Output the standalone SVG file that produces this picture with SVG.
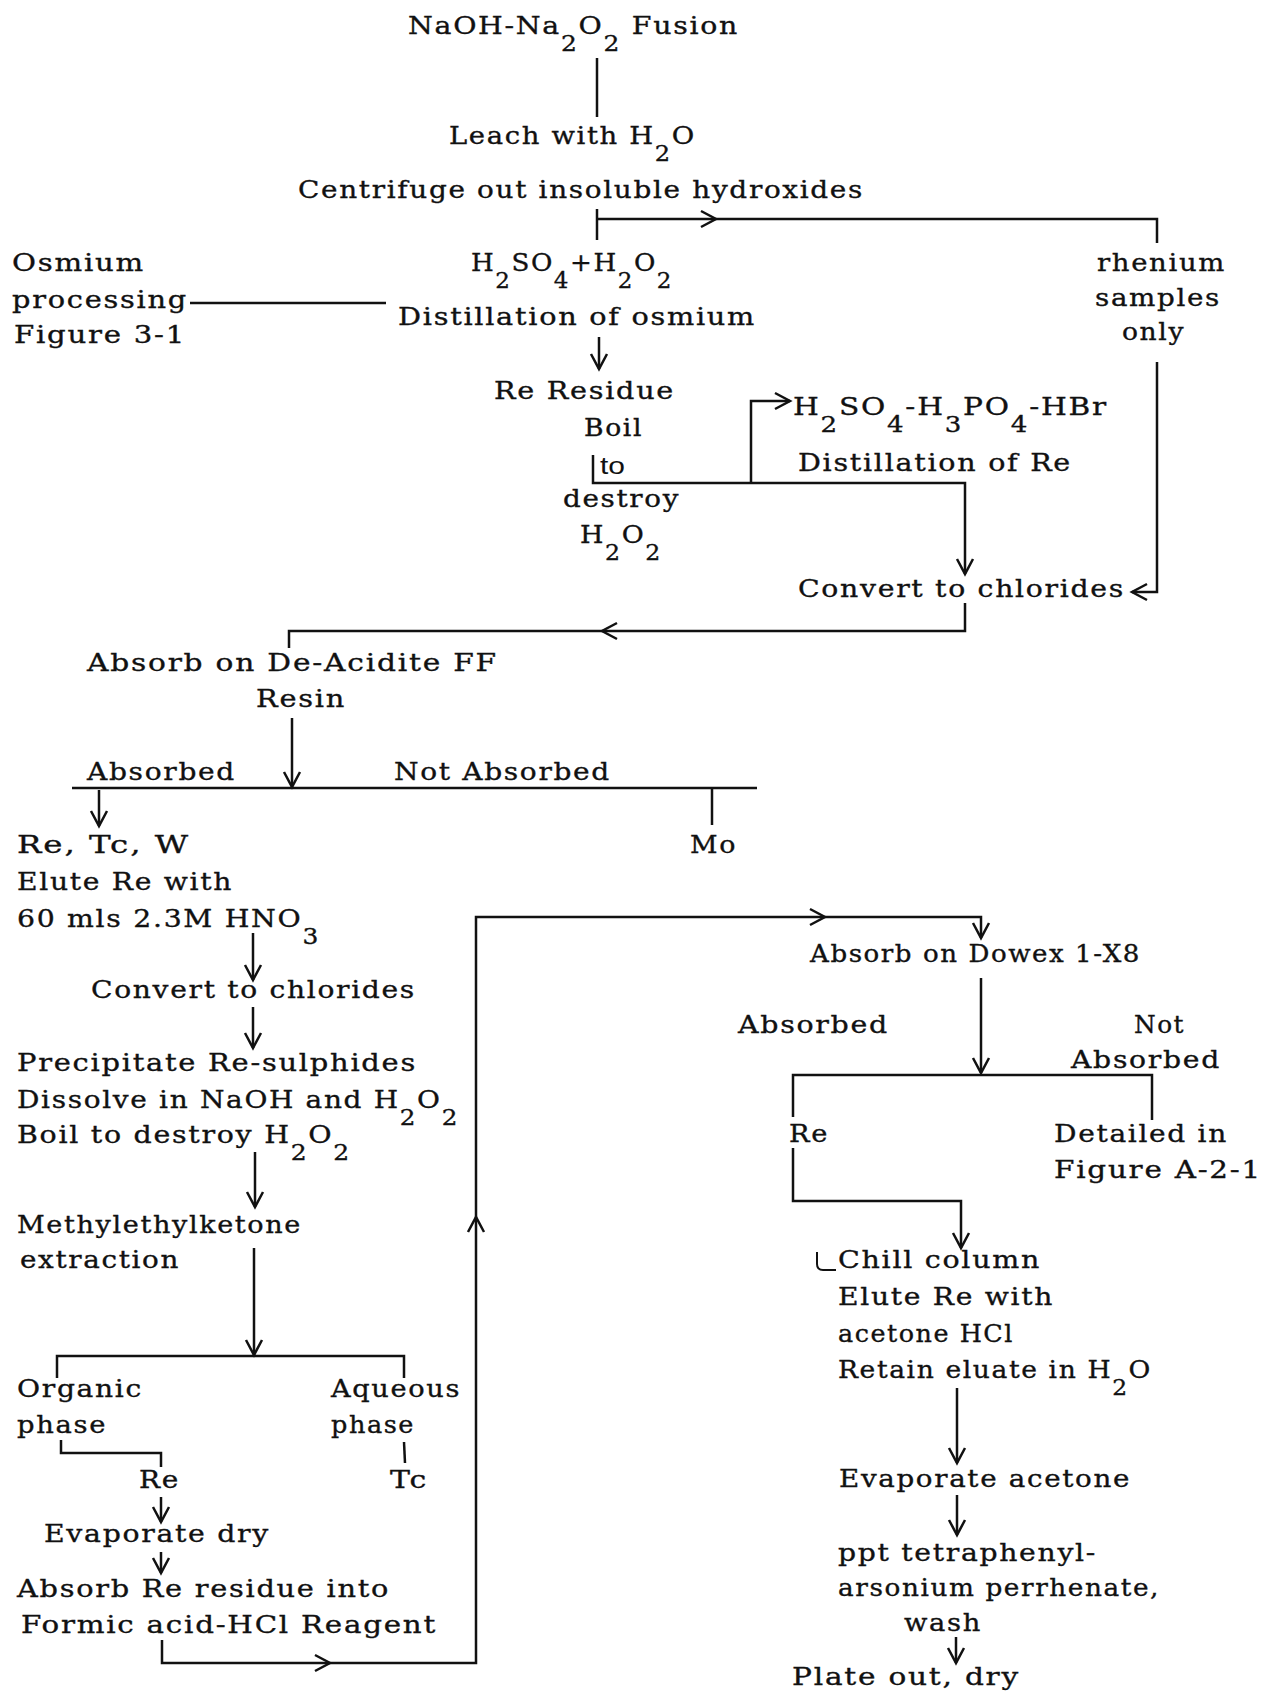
<svg xmlns="http://www.w3.org/2000/svg" xmlns:xlink="http://www.w3.org/1999/xlink" width="1272" height="1692" viewBox="0 0 1272 1692">
<style>
.t{font-family:"DejaVu Serif","Liberation Serif",serif;font-size:25px;letter-spacing:1.5px;fill:#111;stroke:#111;stroke-width:0.35;white-space:pre}
.s{font-size:22px}
.sans{font-family:"Liberation Sans","DejaVu Sans",sans-serif;font-size:23px;fill:#111}
.ln{stroke:#111;stroke-width:2.5;fill:none;stroke-linecap:butt;stroke-linejoin:miter}
</style>
<defs>
<marker id="ah" viewBox="-20 -12 24 24" refX="0" refY="0" markerWidth="24" markerHeight="24" markerUnits="userSpaceOnUse" orient="auto">
<path d="M-15,-8 L0,0 L-15,8" fill="none" stroke="#111" stroke-width="2.5"/>
</marker>
<path id="chev" class="ln" d="M-8,-15 L0,0 L8,-15"/>
</defs>
<rect width="1272" height="1692" fill="#fff"/>

<g id="connectors">
<line class="ln" x1="597" y1="58" x2="597" y2="117"/>
<line class="ln" x1="597" y1="209" x2="597" y2="240"/>
<polyline class="ln" points="597,219 1157,219 1157,243"/>
<use xlink:href="#chev" transform="translate(716,219) rotate(-90)"/>
<line class="ln" x1="190" y1="303" x2="386" y2="303"/>
<line class="ln" x1="599" y1="337" x2="599" y2="369" marker-end="url(#ah)"/>
<polyline class="ln" points="1157,362 1157,592 1132,592" marker-end="url(#ah)"/>
<polyline class="ln" points="593,455 593,483 965,483 965,574" marker-end="url(#ah)"/>
<polyline class="ln" points="751,483 751,401 790,401" marker-end="url(#ah)"/>
<polyline class="ln" points="965,603 965,631 289,631 289,648"/>
<use xlink:href="#chev" transform="translate(602,631) rotate(90)"/>
<line class="ln" x1="292" y1="718" x2="292" y2="787" marker-end="url(#ah)"/>
<line class="ln" x1="72" y1="788" x2="757" y2="788"/>
<line class="ln" x1="99" y1="790" x2="99" y2="826" marker-end="url(#ah)"/>
<line class="ln" x1="712" y1="788" x2="712" y2="825"/>
<line class="ln" x1="253" y1="933" x2="253" y2="980" marker-end="url(#ah)"/>
<line class="ln" x1="253" y1="1007" x2="253" y2="1048" marker-end="url(#ah)"/>
<line class="ln" x1="255" y1="1152" x2="255" y2="1207" marker-end="url(#ah)"/>
<line class="ln" x1="254" y1="1248" x2="254" y2="1355" marker-end="url(#ah)"/>
<polyline class="ln" points="57,1378 57,1356 404,1356 404,1378"/>
<polyline class="ln" points="61,1440 61,1453 161,1453 161,1467"/>
<line class="ln" x1="404" y1="1442" x2="405" y2="1463"/>
<line class="ln" x1="161" y1="1497" x2="161" y2="1522" marker-end="url(#ah)"/>
<line class="ln" x1="161" y1="1552" x2="161" y2="1573" marker-end="url(#ah)"/>
<polyline class="ln" points="162,1640 162,1663 476,1663 476,917 981,917 981,938" marker-end="url(#ah)"/>
<use xlink:href="#chev" transform="translate(330,1663) rotate(-90)"/>
<use xlink:href="#chev" transform="translate(476,1217) rotate(180)"/>
<use xlink:href="#chev" transform="translate(825,917) rotate(-90)"/>
<line class="ln" x1="981" y1="978" x2="981" y2="1073" marker-end="url(#ah)"/>
<polyline class="ln" points="793,1117 793,1075 1152,1075 1152,1120"/>
<polyline class="ln" points="793,1148 793,1201 961,1201 961,1248" marker-end="url(#ah)"/>
<line class="ln" x1="957" y1="1388" x2="957" y2="1463" marker-end="url(#ah)"/>
<line class="ln" x1="957" y1="1495" x2="957" y2="1535" marker-end="url(#ah)"/>
<line class="ln" x1="956" y1="1637" x2="956" y2="1663" marker-end="url(#ah)"/>
<path class="ln" style="stroke-width:2" d="M817,1252 L817,1264 Q817,1270 823,1270 L836,1270"/>
</g>

<g id="n-fusion">
<text class="t" x="408" y="34" textLength="331" lengthAdjust="spacingAndGlyphs">NaOH-Na<tspan class="s" dy="17">2</tspan><tspan dy="-17">O</tspan><tspan class="s" dy="17">2</tspan><tspan dy="-17"> Fusion</tspan></text>
</g>
<g id="n-leach">
<text class="t" x="449" y="144" textLength="247" lengthAdjust="spacingAndGlyphs">Leach with H<tspan class="s" dy="17">2</tspan><tspan dy="-17">O</tspan></text>
<text class="t" x="298" y="198" textLength="566" lengthAdjust="spacingAndGlyphs">Centrifuge out insoluble hydroxides</text>
</g>
<g id="n-osmium">
<text class="t" x="12" y="271" textLength="133" lengthAdjust="spacingAndGlyphs">Osmium</text>
<text class="t" x="12" y="308" textLength="176" lengthAdjust="spacingAndGlyphs">processing</text>
<text class="t" x="14" y="343" textLength="172" lengthAdjust="spacingAndGlyphs">Figure 3-1</text>
</g>
<g id="n-distos">
<text class="t" x="471" y="271" textLength="202" lengthAdjust="spacingAndGlyphs">H<tspan class="s" dy="17">2</tspan><tspan dy="-17">SO</tspan><tspan class="s" dy="17">4</tspan><tspan dy="-17">+H</tspan><tspan class="s" dy="17">2</tspan><tspan dy="-17">O</tspan><tspan class="s" dy="17">2</tspan></text>
<text class="t" x="398" y="325" textLength="358" lengthAdjust="spacingAndGlyphs">Distillation of osmium</text>
</g>
<g id="n-rhenium">
<text class="t" x="1097" y="271" textLength="129" lengthAdjust="spacingAndGlyphs">rhenium</text>
<text class="t" x="1095" y="306" textLength="126" lengthAdjust="spacingAndGlyphs">samples</text>
<text class="t" x="1122" y="340" textLength="63" lengthAdjust="spacingAndGlyphs">only</text>
</g>
<g id="n-residue">
<text class="t" x="494" y="399" textLength="181" lengthAdjust="spacingAndGlyphs">Re Residue</text>
<text class="t" x="584" y="436" textLength="59" lengthAdjust="spacingAndGlyphs">Boil</text>
<text class="sans" x="600" y="474" textLength="25" lengthAdjust="spacingAndGlyphs">to</text>
<text class="t" x="563" y="507" textLength="117" lengthAdjust="spacingAndGlyphs">destroy</text>
<text class="t" x="580" y="543" textLength="82" lengthAdjust="spacingAndGlyphs">H<tspan class="s" dy="17">2</tspan><tspan dy="-17">O</tspan><tspan class="s" dy="17">2</tspan></text>
</g>
<g id="n-distre">
<text class="t" x="793" y="415" textLength="315" lengthAdjust="spacingAndGlyphs">H<tspan class="s" dy="17">2</tspan><tspan dy="-17">SO</tspan><tspan class="s" dy="17">4</tspan><tspan dy="-17">-H</tspan><tspan class="s" dy="17">3</tspan><tspan dy="-17">PO</tspan><tspan class="s" dy="17">4</tspan><tspan dy="-17">-HBr</tspan></text>
<text class="t" x="798" y="471" textLength="274" lengthAdjust="spacingAndGlyphs">Distillation of Re</text>
</g>
<g id="n-convert1">
<text class="t" x="798" y="597" textLength="327" lengthAdjust="spacingAndGlyphs">Convert to chlorides</text>
</g>
<g id="n-deacidite">
<text class="t" x="87" y="671" textLength="411" lengthAdjust="spacingAndGlyphs">Absorb on De-Acidite FF</text>
<text class="t" x="256" y="707" textLength="90" lengthAdjust="spacingAndGlyphs">Resin</text>
</g>
<g id="n-absorbed1">
<text class="t" x="87" y="780" textLength="149" lengthAdjust="spacingAndGlyphs">Absorbed</text>
</g>
<g id="n-notabsorbed1">
<text class="t" x="394" y="780" textLength="217" lengthAdjust="spacingAndGlyphs">Not Absorbed</text>
</g>
<g id="n-mo">
<text class="t" x="690" y="853" textLength="47" lengthAdjust="spacingAndGlyphs">Mo</text>
</g>
<g id="n-retcw">
<text class="t" x="17" y="853" textLength="173" lengthAdjust="spacingAndGlyphs">Re, Tc, W</text>
<text class="t" x="17" y="890" textLength="216" lengthAdjust="spacingAndGlyphs">Elute Re with</text>
<text class="t" x="17" y="927" textLength="303" lengthAdjust="spacingAndGlyphs">60 mls 2.3M HNO<tspan class="s" dy="17">3</tspan></text>
</g>
<g id="n-convert2">
<text class="t" x="91" y="998" textLength="325" lengthAdjust="spacingAndGlyphs">Convert to chlorides</text>
</g>
<g id="n-precip">
<text class="t" x="17" y="1071" textLength="400" lengthAdjust="spacingAndGlyphs">Precipitate Re-sulphides</text>
<text class="t" x="17" y="1108" textLength="442" lengthAdjust="spacingAndGlyphs">Dissolve in NaOH and H<tspan class="s" dy="17">2</tspan><tspan dy="-17">O</tspan><tspan class="s" dy="17">2</tspan></text>
<text class="t" x="17" y="1143" textLength="334" lengthAdjust="spacingAndGlyphs">Boil to destroy H<tspan class="s" dy="17">2</tspan><tspan dy="-17">O</tspan><tspan class="s" dy="17">2</tspan></text>
</g>
<g id="n-mek">
<text class="t" x="17" y="1233" textLength="285" lengthAdjust="spacingAndGlyphs">Methylethylketone</text>
<text class="t" x="20" y="1268" textLength="160" lengthAdjust="spacingAndGlyphs">extraction</text>
</g>
<g id="n-organic">
<text class="t" x="17" y="1397" textLength="126" lengthAdjust="spacingAndGlyphs">Organic</text>
<text class="t" x="17" y="1433" textLength="90" lengthAdjust="spacingAndGlyphs">phase</text>
</g>
<g id="n-aqueous">
<text class="t" x="331" y="1397" textLength="130" lengthAdjust="spacingAndGlyphs">Aqueous</text>
<text class="t" x="331" y="1433" textLength="84" lengthAdjust="spacingAndGlyphs">phase</text>
</g>
<g id="n-re2">
<text class="t" x="139" y="1488" textLength="41" lengthAdjust="spacingAndGlyphs">Re</text>
</g>
<g id="n-tc">
<text class="t" x="390" y="1488" textLength="38" lengthAdjust="spacingAndGlyphs">Tc</text>
</g>
<g id="n-evapdry">
<text class="t" x="44" y="1542" textLength="226" lengthAdjust="spacingAndGlyphs">Evaporate dry</text>
</g>
<g id="n-formic">
<text class="t" x="17" y="1597" textLength="373" lengthAdjust="spacingAndGlyphs">Absorb Re residue into</text>
<text class="t" x="21" y="1633" textLength="416" lengthAdjust="spacingAndGlyphs">Formic acid-HCl Reagent</text>
</g>
<g id="n-dowex">
<text class="t" x="810" y="962" textLength="331" lengthAdjust="spacingAndGlyphs">Absorb on Dowex 1-X8</text>
</g>
<g id="n-absorbed2">
<text class="t" x="738" y="1033" textLength="151" lengthAdjust="spacingAndGlyphs">Absorbed</text>
</g>
<g id="n-notabsorbed2">
<text class="t" x="1134" y="1033" textLength="51" lengthAdjust="spacingAndGlyphs">Not</text>
<text class="t" x="1071" y="1068" textLength="150" lengthAdjust="spacingAndGlyphs">Absorbed</text>
</g>
<g id="n-re3">
<text class="t" x="789" y="1142" textLength="40" lengthAdjust="spacingAndGlyphs">Re</text>
</g>
<g id="n-detailed">
<text class="t" x="1054" y="1142" textLength="174" lengthAdjust="spacingAndGlyphs">Detailed in</text>
<text class="t" x="1054" y="1178" textLength="208" lengthAdjust="spacingAndGlyphs">Figure A-2-1</text>
</g>
<g id="n-chill">
<text class="t" x="838" y="1268" textLength="203" lengthAdjust="spacingAndGlyphs">Chill column</text>
<text class="t" x="838" y="1305" textLength="216" lengthAdjust="spacingAndGlyphs">Elute Re with</text>
<text class="t" x="838" y="1342" textLength="176" lengthAdjust="spacingAndGlyphs">acetone HCl</text>
<text class="t" x="838" y="1378" textLength="314" lengthAdjust="spacingAndGlyphs">Retain eluate in H<tspan class="s" dy="17">2</tspan><tspan dy="-17">O</tspan></text>
</g>
<g id="n-evapacetone">
<text class="t" x="839" y="1487" textLength="292" lengthAdjust="spacingAndGlyphs">Evaporate acetone</text>
</g>
<g id="n-ppt">
<text class="t" x="838" y="1561" textLength="259" lengthAdjust="spacingAndGlyphs">ppt tetraphenyl-</text>
<text class="t" x="838" y="1596" textLength="322" lengthAdjust="spacingAndGlyphs">arsonium perrhenate,</text>
<text class="t" x="904" y="1631" textLength="78" lengthAdjust="spacingAndGlyphs">wash</text>
</g>
<g id="n-plate">
<text class="t" x="792" y="1685" textLength="228" lengthAdjust="spacingAndGlyphs">Plate out, dry</text>
</g>
</svg>
